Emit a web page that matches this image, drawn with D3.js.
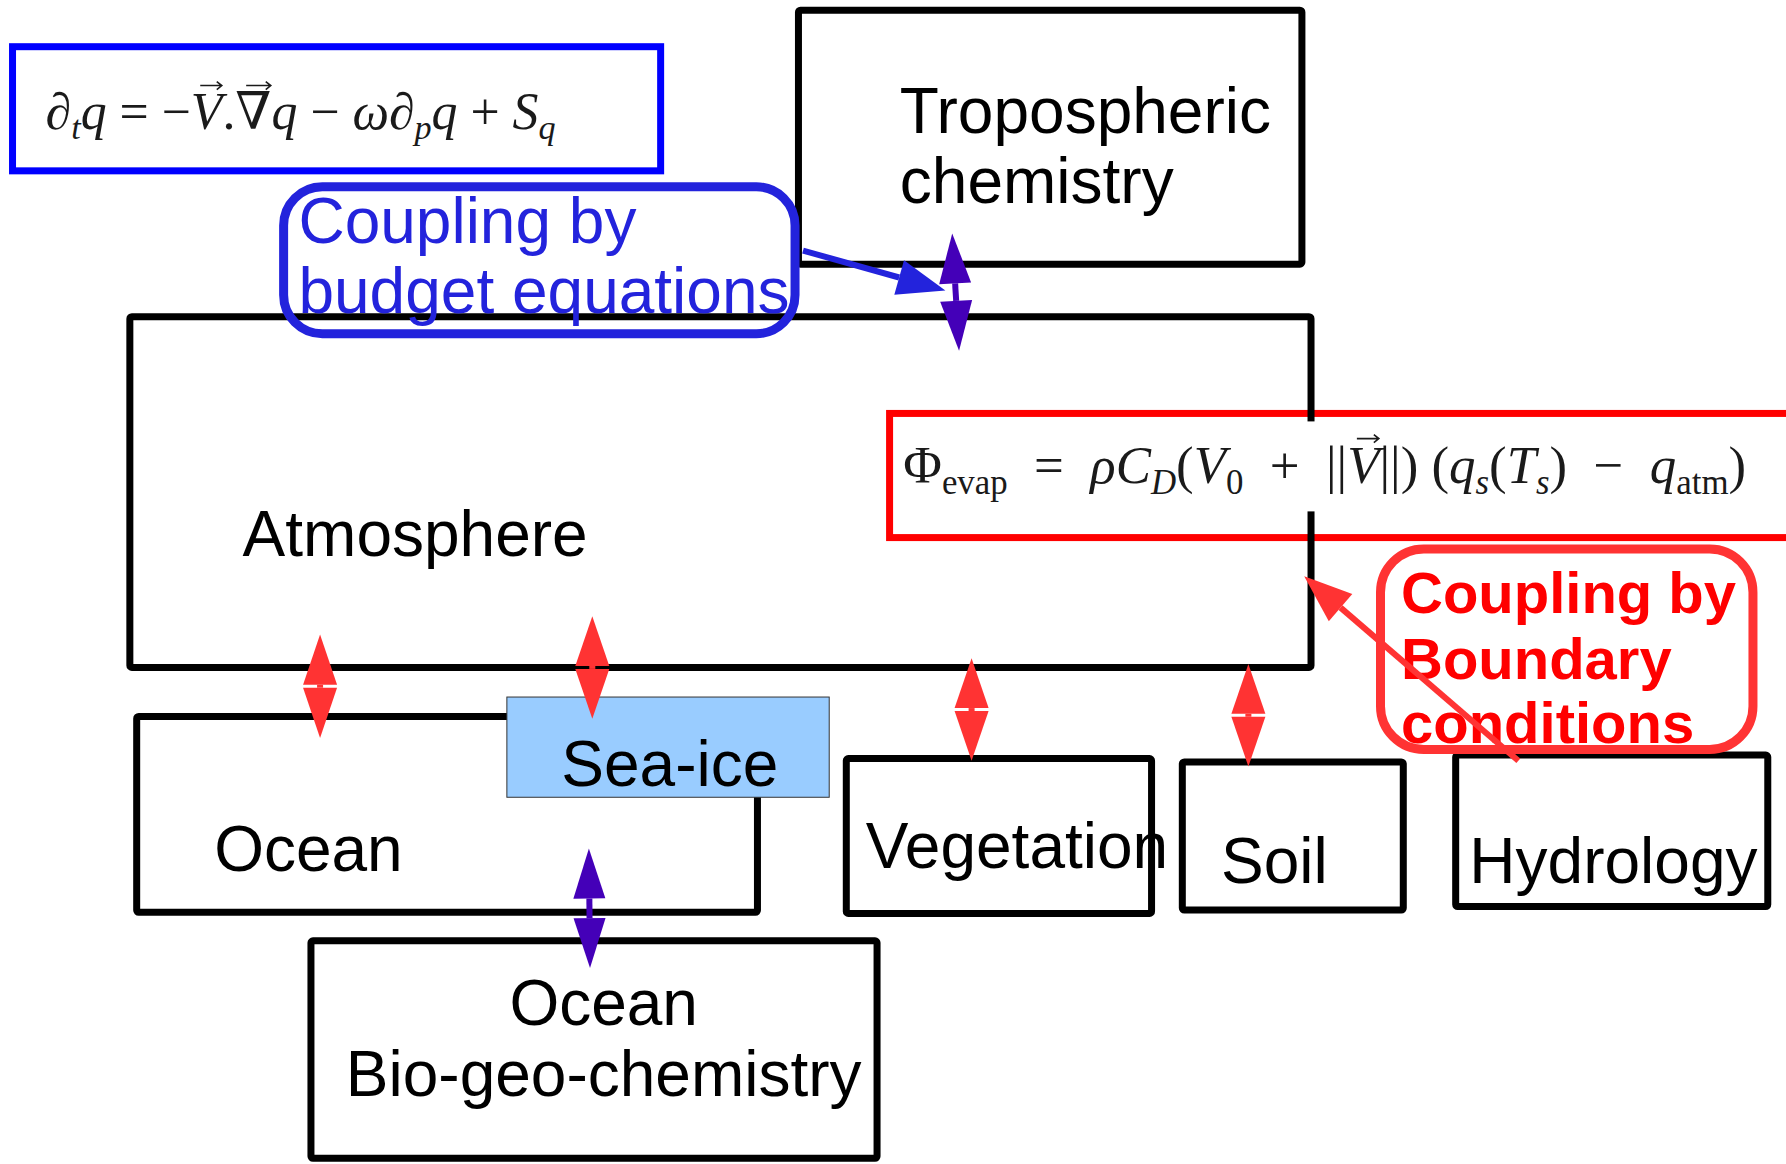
<!DOCTYPE html>
<meta charset="utf-8">
<style>
body { margin: 0; background: #fff; }
text { font-family: "Liberation Sans", Arial, sans-serif; }
.eq { font-family: "Liberation Serif", "DejaVu Serif", serif; fill: #1a1a1a; }
</style>
<body>
  <div class="chart"></div>
</body>
<script src="https://cdn.jsdelivr.net/npm/d3@7"></script>
<script>

var width = 1786, height = 1164;

// diagram is laid out in a 1568 x 1022 design space and scaled to the page
var x = d3.scaleLinear().domain([0, 1568]).range([0, width]);
var y = d3.scaleLinear().domain([0, 1022]).range([0, height]);

// component boxes
var boxNames = ["Tropospheric chemistry", "Atmosphere", "Ocean", "Ocean BGC", "Vegetation", "Soil", "Hydrology"];
var boxX0 = [701, 114, 120, 273, 743, 1038, 1278];
var boxX1 = [1143, 1151, 665, 770, 1011, 1232, 1552];
var boxY0 = [9, 278, 629, 826, 666, 669, 663];
var boxY1 = [232, 586, 801, 1017, 802, 799, 796];

// box labels
var labelText = ["Tropospheric", "chemistry", "Atmosphere", "Ocean", "Sea-ice", "Ocean", "Bio-geo-chemistry", "Vegetation", "Soil", "Hydrology"];
var labelX = [790, 790, 213, 188, 588, 530, 530, 760, 1072, 1290];
var labelY = [117, 178, 488, 765, 690, 900, 962, 762, 775, 775];
var labelAnchor = ["start", "start", "start", "start", "middle", "middle", "middle", "start", "start", "start"];

// callouts
var budgetText = ["Coupling by", "budget equations"];
var budgetY = [213, 275];
var boundaryText = ["Coupling by", "Boundary", "conditions"];
var boundaryY = [538, 596, 652];

// arrows
var arrowFrom = [[705, 220], [1333, 668]];
var arrowTo = [[830, 255], [1145, 506]];
var arrowColor = ["#2323dc", "#ff3333"];

var purpleFrom = [[836, 205], [517, 745]];
var purpleTo = [[842, 308], [518, 850]];

var redX = [281, 520, 853, 1096];
var redTop = [557, 541, 578, 583];
var redBottom = [648, 631, 668, 673];

// equations: [text, flags]  i = italic, b = subscript, v = vector arrow
var eqBudget = [["∂", ""], ["t", "ib"], ["q", "i"], ["\u00a0=\u00a0−", ""], ["V", "iv"], [".", ""], ["∇", "v"], ["q", "i"],
  ["\u00a0−\u00a0", ""], ["ω", "i"], ["∂", ""], ["p", "ib"], ["q", "i"], ["\u00a0+\u00a0", ""], ["S", "i"], ["q", "ib"]];
var eqEvap = [["Φ", ""], ["evap", "b"], ["\u00a0\u00a0=\u00a0\u00a0", ""], ["ρ", "i"], ["C", "i"], ["D", "ib"], ["(", ""], ["V", "i"], ["0", "b"],
  ["\u00a0\u00a0+\u00a0\u00a0", ""], ["||", ""], ["V", "iv"], ["||)\u00a0(", ""], ["q", "i"], ["s", "ib"], ["(", ""], ["T", "i"], ["s", "ib"],
  [")\u00a0\u00a0−\u00a0\u00a0", ""], ["q", "i"], ["atm", "b"], [")", ""]];

var svg = d3.select(".chart")
        .append("svg")
        .attr("width", width)
        .attr("height", height)
        .style("display", "block");

function rect(x0, y0, x1, y1) {
    return svg.append("rect")
            .attr("x", x(x0)).attr("y", y(y0))
            .attr("width", x(x1) - x(x0)).attr("height", y(y1) - y(y0));
}

// red equation frame (runs off the right edge)
rect(781, 363, 1600, 472)
        .attr("fill", "none").attr("stroke", "#ff0000").attr("stroke-width", 7);

// blue equation frame
rect(11, 41, 580, 150)
        .attr("fill", "none").attr("stroke", "#0000ff").attr("stroke-width", 7);

svg.selectAll(".box")
        .data(boxNames)
        .enter()
        .append("rect")
        .attr("class", "box")
        .attr("x", function(d, i) { return x(boxX0[i]); })
        .attr("y", function(d, i) { return y(boxY0[i]); })
        .attr("width", function(d, i) { return x(boxX1[i]) - x(boxX0[i]); })
        .attr("height", function(d, i) { return y(boxY1[i]) - y(boxY0[i]); })
        .attr("rx", 2)
        .attr("fill", "none")
        .attr("stroke", "#000")
        .attr("stroke-width", 7)
        .attr("stroke-linejoin", "round");

// sea-ice patch over the ocean box
rect(445, 612, 728, 700)
        .attr("fill", "#99ccff").attr("stroke", "#333").attr("stroke-width", 1);

// white background of the evaporation formula
rect(785, 370, 1568, 449).attr("fill", "#fff");

function buildEq(segs, x0, yb, size) {
    var t = svg.append("text")
            .attr("class", "eq")
            .attr("x", x0).attr("y", yb)
            .attr("font-size", size);
    var sub = false, idx = 0, marks = [], shift = size * 0.2;
    segs.forEach(function(s) {
        var isSub = s[1].indexOf("b") >= 0;
        var ts = t.append("tspan").text(s[0]);
        ts.attr("dy", isSub && !sub ? shift : (!isSub && sub ? -shift : 0));
        if (isSub) ts.attr("font-size", size * 0.66);
        if (s[1].indexOf("i") >= 0) ts.attr("font-style", "italic");
        if (s[1].indexOf("v") >= 0) marks.push(idx);
        idx += s[0].length;
        sub = isSub;
    });
    return {t: t, marks: marks};
}

// size the formula so it spans the same width as in the picture
function drawEq(segs, x0, yb, size, len) {
    var e = buildEq(segs, x0, yb, size);
    var L = e.t.node().getComputedTextLength();
    e.t.remove();
    size = size * len / L;
    e = buildEq(segs, x0, yb, size);
    e.marks.forEach(function(i) {
        var b = e.t.node().getExtentOfChar(i);
        var ya = yb - size * 0.84, xa0 = b.x + b.width * 0.3, xa1 = b.x + b.width * 0.98;
        svg.append("path")
                .attr("d", "M" + xa0 + "," + ya + "L" + xa1 + "," + ya +
                        "M" + (xa1 - 5) + "," + (ya - 4) + "L" + xa1 + "," + ya + "L" + (xa1 - 5) + "," + (ya + 4))
                .attr("fill", "none").attr("stroke", "#1a1a1a").attr("stroke-width", 1.6);
    });
}

drawEq(eqBudget, x(40), 129, 40, 510);
drawEq(eqEvap, x(793), 483, 42, 843);

svg.selectAll(".label")
        .data(labelText)
        .enter()
        .append("text")
        .attr("class", "label")
        .attr("x", function(d, i) { return x(labelX[i]); })
        .attr("y", function(d, i) { return y(labelY[i]); })
        .attr("text-anchor", function(d, i) { return labelAnchor[i]; })
        .attr("font-size", 64)
        .attr("fill", "#000")
        .text(function(d) { return d; });

// callout frames
rect(249, 164, 698, 293)
        .attr("rx", x(34)).attr("fill", "none").attr("stroke", "#2323dc").attr("stroke-width", 9);
rect(1212, 482, 1539, 658)
        .attr("rx", x(38)).attr("fill", "none").attr("stroke", "#ff3333").attr("stroke-width", 9);

svg.selectAll(".budget")
        .data(budgetText)
        .enter()
        .append("text")
        .attr("x", x(262))
        .attr("y", function(d, i) { return y(budgetY[i]); })
        .attr("font-size", 64)
        .attr("fill", "#2323dc")
        .text(function(d) { return d; });

svg.selectAll(".boundary")
        .data(boundaryText)
        .enter()
        .append("text")
        .attr("x", x(1230))
        .attr("y", function(d, i) { return y(boundaryY[i]); })
        .attr("font-size", 58)
        .attr("font-weight", "bold")
        .attr("fill", "#ff0000")
        .text(function(d) { return d; });

// arrow helpers (page pixels)
function head(tip, from, len, hw) {
    var dx = tip[0] - from[0], dy = tip[1] - from[1], L = Math.hypot(dx, dy);
    var ux = dx / L, uy = dy / L;
    var bx = tip[0] - ux * len, by = tip[1] - uy * len;
    return {pts: [tip, [bx - uy * hw, by + ux * hw], [bx + uy * hw, by - ux * hw]], base: [bx, by]};
}

function poly(pts, color) {
    svg.append("path").attr("d", "M" + pts.join("L") + "Z").attr("fill", color);
}

function shaft(a, b, w, color) {
    svg.append("line")
            .attr("x1", a[0]).attr("y1", a[1]).attr("x2", b[0]).attr("y2", b[1])
            .attr("stroke", color).attr("stroke-width", w);
}

function doubleArrow(p1, p2, len, hw, w, color) {
    var h1 = head(p1, p2, len, hw), h2 = head(p2, p1, len, hw);
    shaft(h1.base, h2.base, w, color);
    poly(h1.pts, color);
    poly(h2.pts, color);
}

arrowFrom.forEach(function(f, i) {
    var a = [x(f[0]), y(f[1])], b = [x(arrowTo[i][0]), y(arrowTo[i][1])];
    var h = head(b, a, 48, 18);
    shaft(a, h.base, 6, arrowColor[i]);
    poly(h.pts, arrowColor[i]);
});

purpleFrom.forEach(function(f, i) {
    doubleArrow([x(f[0]), y(f[1])], [x(purpleTo[i][0]), y(purpleTo[i][1])], 50, 16, 6, "#4400b8");
});

redX.forEach(function(rx, i) {
    var a = [x(rx), y(redTop[i])], b = [x(rx), y(redBottom[i])];
    doubleArrow(a, b, (b[1] - a[1] - 3) / 2, 17, 6, "#ff3333");
});

</script>
